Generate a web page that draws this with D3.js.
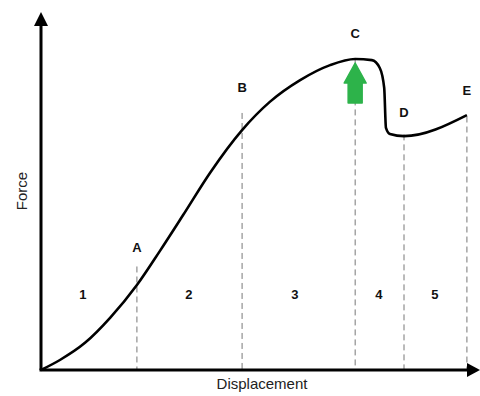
<!DOCTYPE html>
<html>
<head>
<meta charset="UTF-8">
<title>Force vs Displacement</title>
<style>
  body { margin: 0; background: #fff; }
  svg { display: block; font-family: "Liberation Sans", Arial, sans-serif; }
  .curve { fill: none; stroke: #000; stroke-width: 2.6; stroke-linejoin: round; }
  .guide { stroke: #777; stroke-width: 1; stroke-dasharray: 6,4; }
  .pt { font-size: 13px; font-weight: bold; fill: #111; text-anchor: middle; }
  .zone { font-size: 13px; font-weight: bold; fill: #111; text-anchor: middle; }
  .axlabel { font-size: 15px; fill: #222; text-anchor: middle; }
</style>
</head>
<body>
<div id="chart"></div>
<script src="https://d3js.org/d3.v7.min.js"></script>
<script>
// curve samples (displacement, force), arbitrary units 0-100
const dispVals  = [0, 4.3, 10.0, 15.7, 21.8, 27.0, 32.3, 38.4, 45.7, 52.0, 58.9, 65.7, 71.4, 75.2, 77.0, 78.0, 78.4, 79.3, 82.5, 96.8];
const forceVals = [0, 2.8, 7.6, 14.6, 23.8, 33.3, 43.4, 55.2, 67.2, 75.1, 81.2, 85.4, 87.1, 86.8, 84.6, 79.0, 67.8, 66.1, 65.5, 71.4];

// marked points and guide lines
const pointNames = ["A", "B", "C", "D", "E"];
const pointDisp  = [21.8, 45.7, 71.4, 82.5, 96.8];
const guideTop   = [29, 72, 87, 66, 71];   // where each dashed guide starts
const labelForce = [33, 78, 93, 71, 77];

// zones between points
const zoneNames = ["1", "2", "3", "4", "5"];
const zoneDisp  = [9.5, 33.6, 57.7, 76.8, 89.5];
const zoneForce = 20;

const width = 480, height = 396;

const svg = d3.select("#chart").append("svg")
  .attr("width", width)
  .attr("height", height);

const x = d3.scaleLinear().domain([0, 100]).range([41, 481]);
const y = d3.scaleLinear().domain([0, 100]).range([370, 13]);

// dashed guides
svg.append("g").selectAll("line")
  .data(pointDisp)
  .enter().append("line")
  .attr("class", "guide")
  .attr("x1", d => x(d)).attr("x2", d => x(d))
  .attr("y1", (d, i) => y(guideTop[i]))
  .attr("y2", y(0));

// point labels
svg.append("g").selectAll("text")
  .data(pointNames)
  .enter().append("text")
  .attr("class", "pt")
  .attr("x", (d, i) => x(pointDisp[i]))
  .attr("y", (d, i) => y(labelForce[i]))
  .text(d => d);

// zone labels
svg.append("g").selectAll("text")
  .data(zoneNames)
  .enter().append("text")
  .attr("class", "zone")
  .attr("x", (d, i) => x(zoneDisp[i]))
  .attr("y", y(zoneForce))
  .text(d => d);

// the curve
const line = d3.line()
  .x(d => x(d[0]))
  .y(d => y(d[1]))
  .curve(d3.curveMonotoneX);

svg.append("path")
  .attr("class", "curve")
  .attr("d", line(d3.zip(dispVals, forceVals)));

// green arrow under the peak
const ax = x(71.4);
const tipY = 63, headY = 83, baseY = 103;
svg.append("path")
  .attr("d", `M${ax},${tipY} L${ax + 11},${headY} L${ax + 7},${headY} L${ax + 7},${baseY} L${ax - 7},${baseY} L${ax - 7},${headY} L${ax - 11},${headY} Z`)
  .attr("fill", "#2db34a")
  .attr("stroke", "#2db34a")
  .attr("stroke-width", 1.5)
  .attr("stroke-linejoin", "round");

// axes with arrowheads
svg.append("line")
  .attr("x1", x(0)).attr("y1", y(0))
  .attr("x2", x(0)).attr("y2", 22)
  .attr("stroke", "#000").attr("stroke-width", 3);
svg.append("path")
  .attr("d", `M${x(0)},12 L${x(0) + 7},26 L${x(0) - 7},26 Z`)
  .attr("fill", "#000");

svg.append("line")
  .attr("x1", x(0) - 1.5).attr("y1", y(0))
  .attr("x2", 470).attr("y2", y(0))
  .attr("stroke", "#000").attr("stroke-width", 3);
svg.append("path")
  .attr("d", `M480,${y(0)} L467,${y(0) - 7} L467,${y(0) + 7} Z`)
  .attr("fill", "#000");

// axis titles
svg.append("text")
  .attr("class", "axlabel")
  .attr("x", 262).attr("y", 389)
  .text("Displacement");

svg.append("text")
  .attr("class", "axlabel")
  .attr("transform", "translate(27,191) rotate(-90)")
  .text("Force");
</script>
</body>
</html>
